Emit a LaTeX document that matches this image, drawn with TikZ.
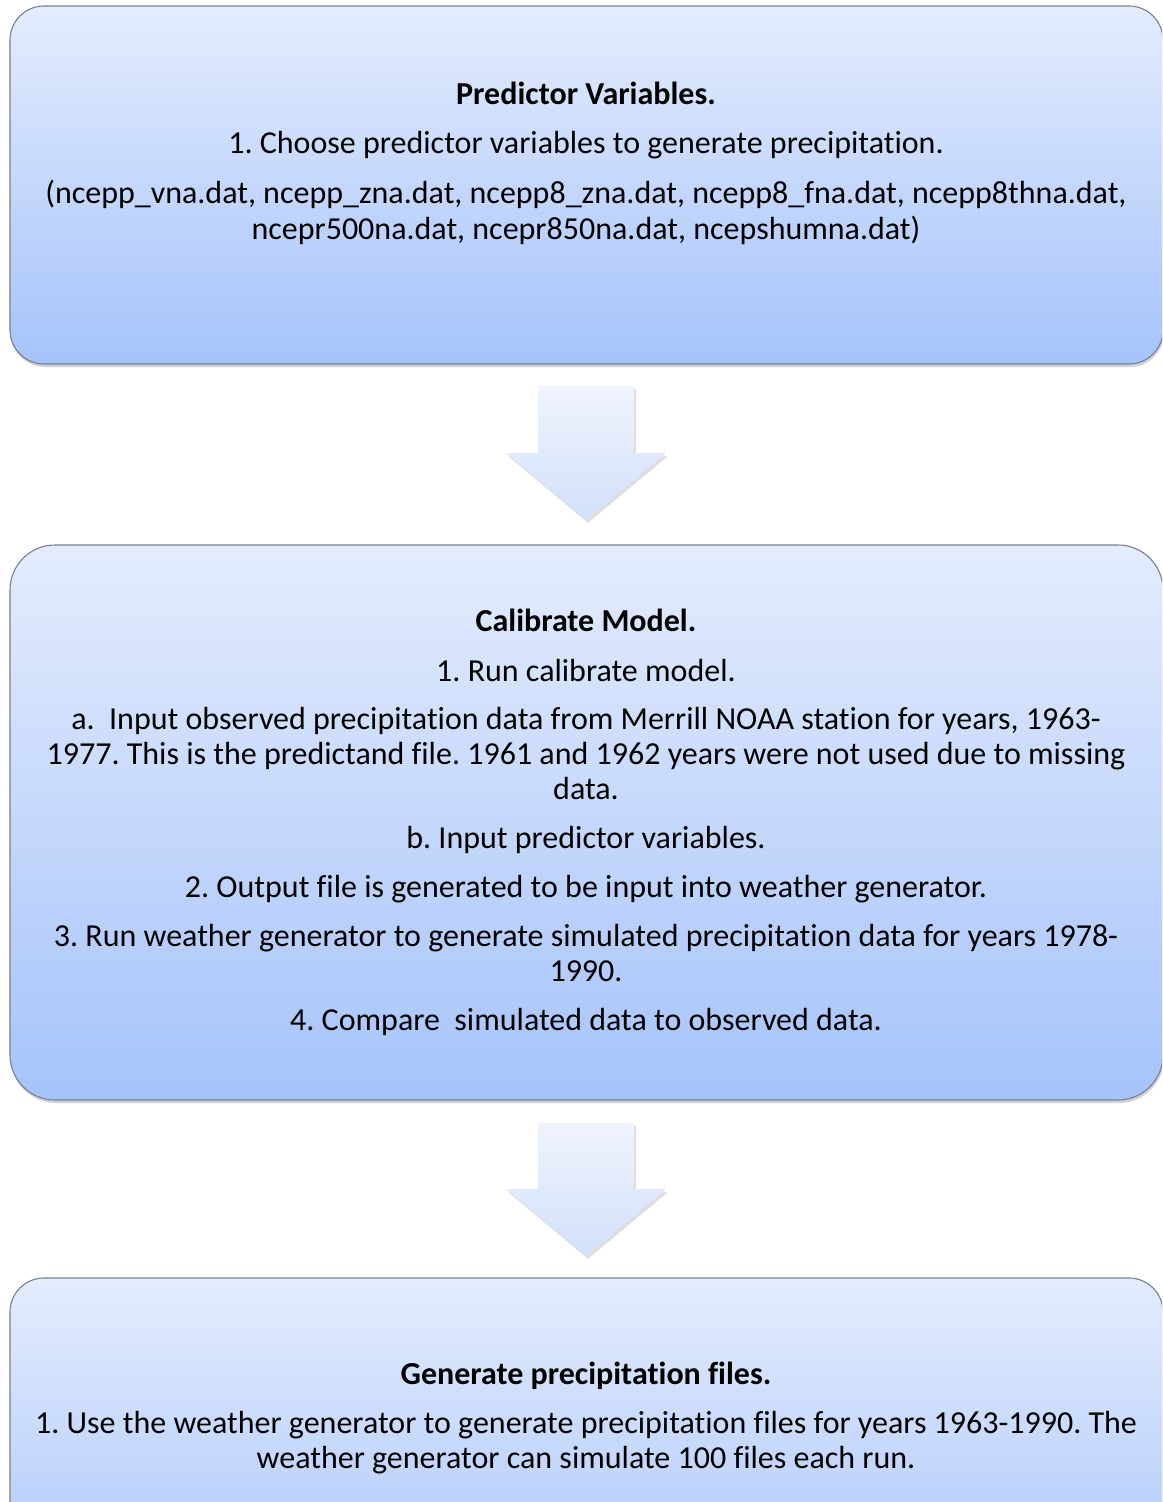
\documentclass[tikz,border=0pt]{standalone}
\usepackage{fontspec}
\setmainfont[Ligatures={NoCommon}]{Carlito}
\frenchspacing
\usetikzlibrary{shadows}
\definecolor{boxtop}{RGB}{228,236,253}
\definecolor{boxbot}{RGB}{166,195,250}
\definecolor{boxline}{RGB}{118,128,146}
\definecolor{arrtop}{RGB}{240,244,253}
\definecolor{arrbot}{RGB}{210,224,251}
\begin{document}
\begin{tikzpicture}[x=1pt,y=-1pt,
  stagebox/.style={draw=boxline, line width=1.1pt, rounded corners=34pt,
    top color=boxtop, bottom color=boxbot,
    drop shadow={opacity=0.35, shadow xshift=1pt, shadow yshift=-3pt},
    inner sep=0pt, minimum width=1153pt},
  flowarrow/.style={top color=arrtop, bottom color=arrbot,
    drop shadow={opacity=0.25, shadow xshift=2pt, shadow yshift=-3pt}},
  txt/.style={anchor=base, inner sep=0pt, font=\fontsize{32}{35}\selectfont}]
\useasboundingbox (0,0) rectangle (1162,1502);
\clip (0,0) rectangle (1162,1502);
\fill[white] (0,0) rectangle (1162,1502);
% boxes
\node[stagebox, minimum height=358pt] (box1) at (586.5,185) {};
\node[stagebox, minimum height=555pt, rounded corners=45pt] (box2) at (586.5,822.5) {};
\node[stagebox, minimum height=358pt] (box3) at (586.5,1457) {};
% arrows
\shade[flowarrow] (538,386) -- (634,386) -- (634,453) -- (666,453) -- (586,520) -- (506,453) -- (538,453) -- cycle;
\shade[flowarrow] (538,1123) -- (634,1123) -- (634,1189) -- (666,1189) -- (586,1256) -- (506,1189) -- (538,1189) -- cycle;
% box 1 text
\node[txt] (t11) at (586,104.5) {\textbf{Predictor Variables.}};
\node[txt] (t12) at (586,153.5) {1. Choose predictor variables to generate precipitation.};
\node[txt] (t13) at (586,203) {(ncepp\_vna.dat, ncepp\_zna.dat, ncepp8\_zna.dat, ncepp8\_fna.dat, ncepp8thna.dat,};
\node[txt] (t14) at (586,239) {ncepr500na.dat, ncepr850na.dat, ncepshumna.dat)};
% box 2 text
\node[txt] (t21) at (586,631) {\textbf{Calibrate Model.}};
\node[txt] (t22) at (586,681) {1. Run calibrate model.};
\node[txt] (t23) at (586,729) {a.\ \ Input observed precipitation data from Merrill NOAA station for years, 1963-};
\node[txt] (t24) at (586,764) {1977. This is the predictand file. 1961 and 1962 years were not used due to missing};
\node[txt] (t25) at (586,799) {data.};
\node[txt] (t26) at (586,848) {b. Input predictor variables.};
\node[txt] (t27) at (586,897) {2. Output file is generated to be input into weather generator.};
\node[txt] (t28) at (586,946) {3. Run weather generator to generate simulated precipitation data for years 1978-};
\node[txt] (t29) at (586,981) {1990.};
\node[txt] (t210) at (586,1030) {4. Compare\ \ simulated data to observed data.};
% box 3 text
\node[txt] (t31) at (586,1384) {\textbf{Generate precipitation files.}};
\node[txt] (t32) at (586,1433) {1. Use the weather generator to generate precipitation files for years 1963-1990. The};
\node[txt] (t33) at (586,1468) {weather generator can simulate 100 files each run.};
\end{tikzpicture}
\end{document}
